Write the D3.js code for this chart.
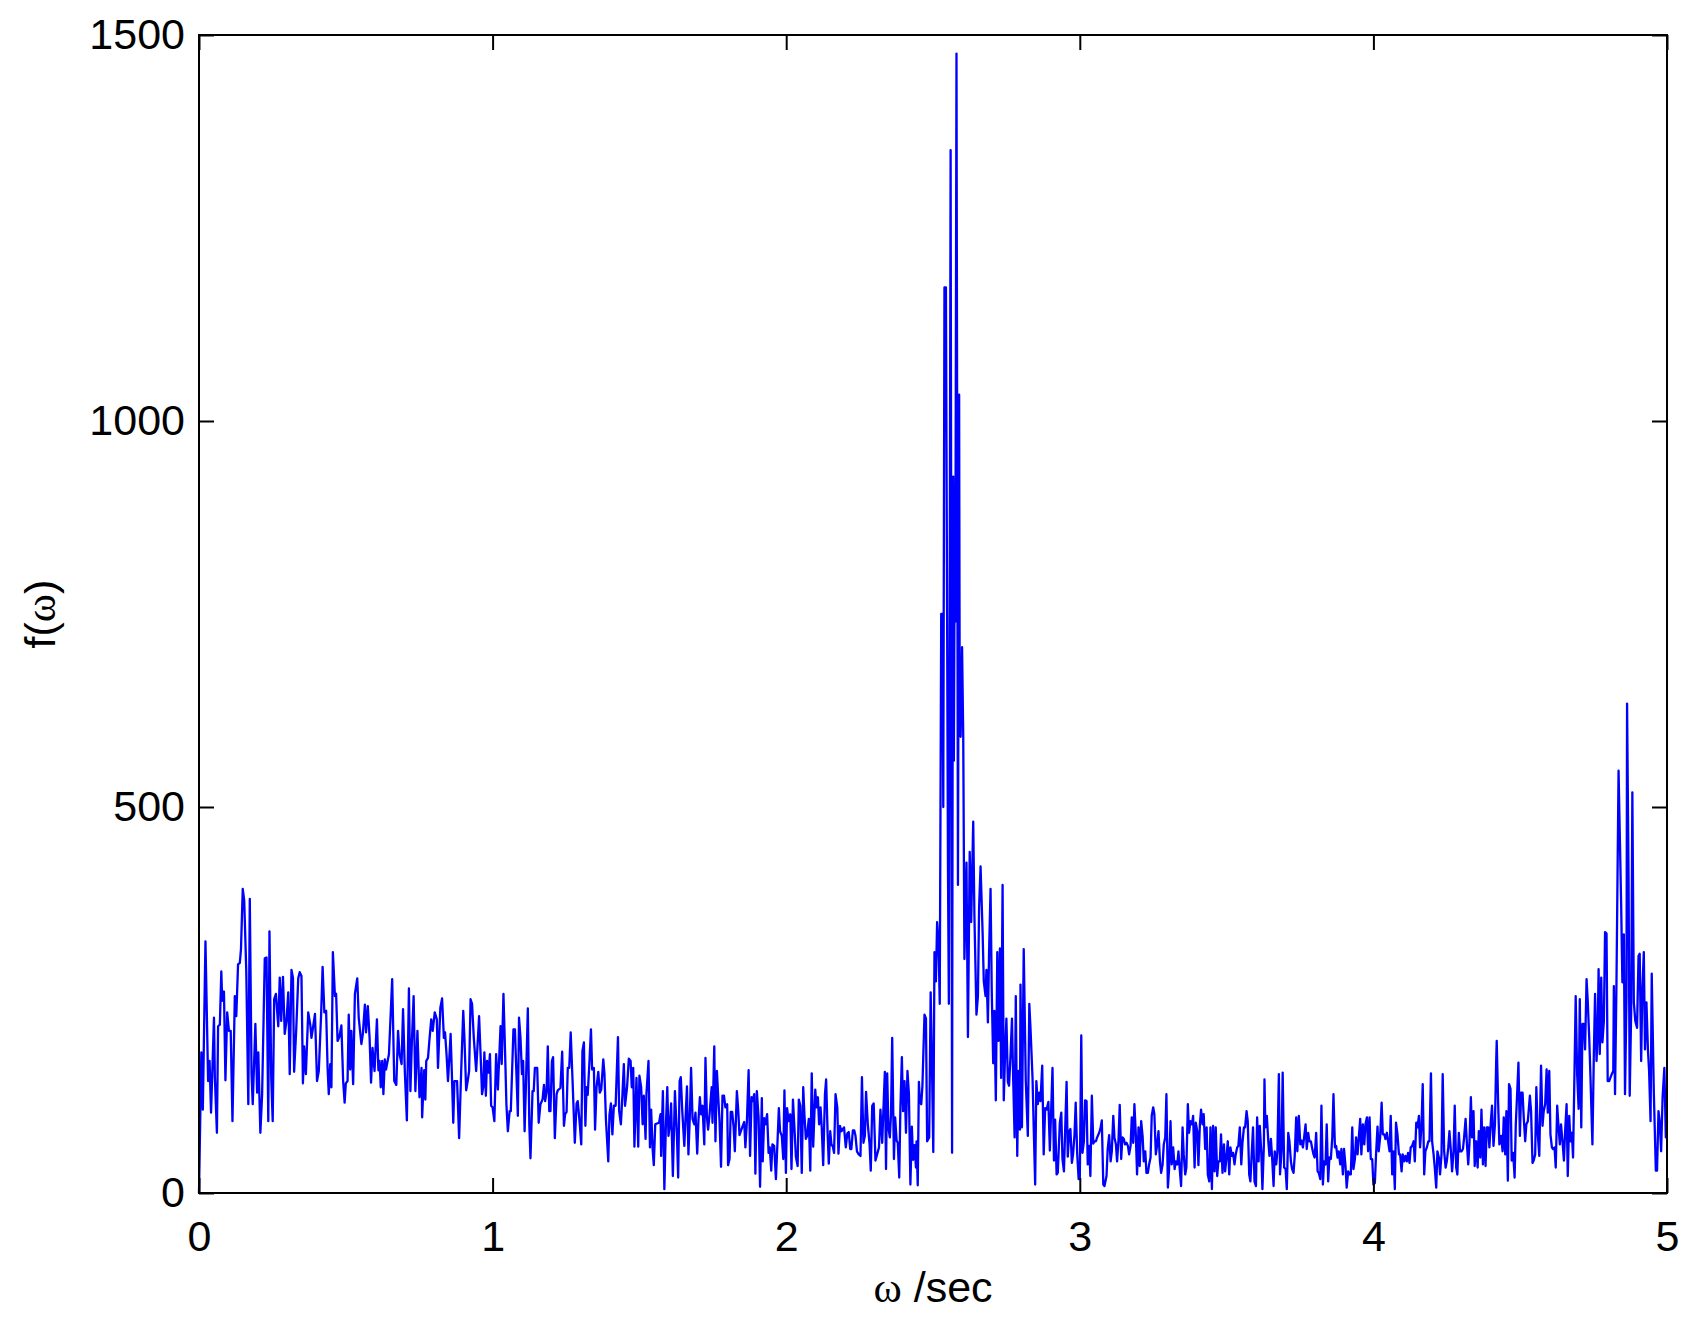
<!DOCTYPE html>
<html>
<head>
<meta charset="utf-8">
<script src="https://cdn.jsdelivr.net/npm/d3@7"></script>
<style>
  html, body { margin: 0; padding: 0; background: #ffffff; }
  svg { display: block; }
</style>
</head>
<body>
<svg id="chart" width="1699" height="1323"></svg>
<script>
// ---------- data ----------
const xTicks = [0, 1, 2, 3, 4, 5];
const yTicks = [0, 500, 1000, 1500];
// titles as [text, isGreekSymbol] parts
const xTitleParts = [["\u03C9", true], [" /sec", false]];
const yTitleParts = [["f(", false], ["\u03C9", true], [")", false]];

// [omega, f(omega)] vertices of the spectrum trace
const spectrumPoints = [
[0,0],[0.008,182],[0.013,108],[0.022,326],[0.031,145],[0.036,171],[0.041,104],[0.051,227],[0.054,150],[0.061,78],
[0.065,216],[0.071,218],[0.076,287],[0.079,249],[0.085,261],[0.090,146],[0.096,234],[0.102,210],[0.108,210],[0.114,93],
[0.122,255],[0.127,229],[0.133,296],[0.139,298],[0.143,316],[0.149,394],[0.154,379],[0.161,288],[0.168,115],[0.173,381],
[0.179,154],[0.183,115],[0.192,219],[0.198,130],[0.202,182],[0.209,78],[0.215,128],[0.224,304],[0.230,305],[0.236,93],
[0.240,339],[0.246,150],[0.251,93],[0.256,251],[0.262,258],[0.270,216],[0.275,279],[0.280,223],[0.286,280],[0.292,206],
[0.298,223],[0.304,260],[0.309,154],[0.315,289],[0.320,279],[0.324,157],[0.331,210],[0.338,278],[0.343,286],[0.349,281],
[0.354,142],[0.358,190],[0.364,154],[0.372,234],[0.379,218],[0.383,201],[0.389,216],[0.395,232],[0.402,145],[0.408,158],
[0.416,232],[0.421,293],[0.427,234],[0.433,236],[0.438,162],[0.442,128],[0.447,167],[0.451,137],[0.456,312],[0.463,255],
[0.467,258],[0.472,197],[0.478,202],[0.485,217],[0.491,145],[0.496,117],[0.500,142],[0.506,145],[0.510,231],[0.515,160],
[0.519,210],[0.525,141],[0.531,258],[0.539,278],[0.544,227],[0.553,193],[0.558,206],[0.565,244],[0.569,208],[0.575,242],
[0.581,201],[0.586,143],[0.591,188],[0.598,158],[0.606,225],[0.611,159],[0.615,171],[0.619,137],[0.624,171],[0.628,128],
[0.633,173],[0.637,160],[0.647,180],[0.658,277],[0.665,145],[0.672,140],[0.678,210],[0.683,180],[0.690,167],[0.695,238],
[0.701,158],[0.708,94],[0.715,265],[0.720,132],[0.725,195],[0.731,255],[0.737,132],[0.744,210],[0.751,124],[0.758,162],
[0.760,98],[0.767,159],[0.771,121],[0.774,171],[0.780,175],[0.785,199],[0.791,225],[0.796,210],[0.803,234],[0.810,225],
[0.814,162],[0.822,240],[0.828,252],[0.834,201],[0.838,208],[0.843,180],[0.848,145],[0.852,171],[0.857,206],[0.861,158],
[0.866,91],[0.870,145],[0.879,145],[0.886,71],[0.893,158],[0.900,236],[0.904,201],[0.910,133],[0.916,147],[0.920,158],
[0.925,251],[0.930,245],[0.936,201],[0.944,158],[0.954,229],[0.959,180],[0.964,128],[0.968,137],[0.972,182],[0.977,126],
[0.981,171],[0.986,156],[0.991,180],[0.995,113],[1.000,111],[1.006,93],[1.012,180],[1.018,134],[1.027,216],[1.031,167],
[1.037,258],[1.043,175],[1.047,115],[1.052,80],[1.058,106],[1.062,106],[1.071,212],[1.076,212],[1.086,100],[1.090,227],
[1.095,201],[1.100,154],[1.104,171],[1.109,80],[1.113,132],[1.120,239],[1.125,89],[1.129,45],[1.136,132],[1.140,132],
[1.144,162],[1.152,162],[1.157,91],[1.163,115],[1.170,121],[1.175,140],[1.179,119],[1.184,132],[1.188,190],[1.193,106],
[1.197,106],[1.202,171],[1.206,176],[1.212,71],[1.218,128],[1.222,133],[1.231,136],[1.237,183],[1.243,87],[1.247,102],
[1.252,105],[1.256,162],[1.261,162],[1.266,208],[1.272,149],[1.280,65],[1.286,116],[1.290,119],[1.297,89],[1.302,63],
[1.306,184],[1.311,195],[1.316,87],[1.320,137],[1.324,127],[1.330,171],[1.335,212],[1.339,160],[1.345,162],[1.349,82],
[1.354,137],[1.360,157],[1.365,130],[1.370,134],[1.377,173],[1.381,154],[1.386,95],[1.394,41],[1.398,101],[1.403,116],
[1.408,76],[1.413,113],[1.419,113],[1.427,202],[1.431,106],[1.437,89],[1.442,126],[1.447,167],[1.451,113],[1.458,137],
[1.464,174],[1.470,171],[1.474,137],[1.479,162],[1.483,60],[1.490,149],[1.496,60],[1.500,152],[1.506,137],[1.511,89],
[1.515,126],[1.521,70],[1.524,128],[1.531,171],[1.536,59],[1.540,108],[1.545,57],[1.549,36],[1.554,89],[1.560,90],
[1.567,91],[1.572,102],[1.574,48],[1.580,132],[1.585,5],[1.590,85],[1.595,137],[1.599,74],[1.604,89],[1.608,116],
[1.614,22],[1.621,132],[1.628,72],[1.632,20],[1.637,145],[1.641,150],[1.646,106],[1.653,61],[1.657,96],[1.662,138],
[1.667,50],[1.672,102],[1.676,162],[1.681,96],[1.687,89],[1.691,104],[1.697,51],[1.701,93],[1.706,124],[1.710,102],
[1.715,113],[1.721,63],[1.725,175],[1.730,98],[1.734,82],[1.739,102],[1.746,137],[1.749,91],[1.755,190],[1.759,67],
[1.764,158],[1.768,128],[1.773,93],[1.778,34],[1.783,126],[1.788,126],[1.793,111],[1.799,115],[1.802,36],[1.807,44],
[1.811,105],[1.816,105],[1.821,85],[1.825,54],[1.832,132],[1.836,111],[1.841,75],[1.850,85],[1.857,92],[1.861,59],
[1.866,92],[1.872,159],[1.877,48],[1.882,124],[1.886,119],[1.891,128],[1.895,25],[1.900,132],[1.906,98],[1.911,8],
[1.917,123],[1.920,41],[1.925,97],[1.929,89],[1.935,102],[1.940,52],[1.944,59],[1.949,29],[1.953,63],[1.959,61],
[1.965,18],[1.970,63],[1.975,110],[1.979,80],[1.985,74],[1.990,44],[1.994,133],[1.999,26],[2.003,110],[2.008,93],
[2.014,102],[2.018,31],[2.023,121],[2.028,85],[2.033,47],[2.039,35],[2.043,121],[2.048,113],[2.053,26],[2.058,137],
[2.062,102],[2.067,70],[2.071,74],[2.077,96],[2.082,29],[2.087,155],[2.092,60],[2.099,134],[2.103,111],[2.108,124],
[2.112,89],[2.117,111],[2.121,85],[2.126,36],[2.132,128],[2.136,147],[2.141,78],[2.145,38],[2.150,80],[2.154,63],
[2.159,60],[2.163,52],[2.168,128],[2.174,111],[2.178,51],[2.183,87],[2.188,80],[2.197,85],[2.203,59],[2.208,77],
[2.213,79],[2.218,57],[2.222,57],[2.227,81],[2.232,81],[2.236,74],[2.241,54],[2.247,50],[2.253,48],[2.258,150],
[2.263,65],[2.268,74],[2.272,131],[2.278,89],[2.284,63],[2.288,29],[2.293,113],[2.298,116],[2.304,42],[2.311,52],
[2.316,59],[2.321,108],[2.327,65],[2.331,107],[2.336,157],[2.340,31],[2.344,155],[2.348,85],[2.353,72],[2.357,102],
[2.361,201],[2.367,44],[2.371,98],[2.376,68],[2.380,65],[2.385,20],[2.389,111],[2.394,176],[2.398,106],[2.403,145],
[2.408,78],[2.413,158],[2.418,128],[2.423,11],[2.428,86],[2.432,43],[2.437,62],[2.442,33],[2.444,67],[2.448,10],
[2.452,144],[2.455,120],[2.460,115],[2.464,139],[2.471,231],[2.476,226],[2.480,67],[2.487,72],[2.492,260],[2.496,178],
[2.501,53],[2.505,312],[2.510,274],[2.514,351],[2.519,322],[2.523,245],[2.528,750],[2.532,750],[2.535,500],[2.539,1173],
[2.544,1173],[2.548,755],[2.551,420],[2.554,245],[2.560,1351],[2.565,52],[2.567,640],[2.569,928],[2.571,560],[2.573,755],
[2.576,740],[2.580,1476],[2.585,399],[2.589,1034],[2.591,620],[2.594,591],[2.599,707],[2.603,591],[2.607,303],[2.614,428],
[2.619,202],[2.625,442],[2.630,351],
[2.637,481],[2.641,360],[2.648,231],[2.653,255],[2.657,370],[2.662,423],[2.669,337],[2.673,274],[2.679,255],[2.682,289],
[2.687,221],[2.691,312],[2.696,394],[2.700,264],[2.705,168],[2.709,236],[2.714,120],[2.719,312],[2.723,197],[2.728,317],
[2.732,149],[2.737,399],[2.741,120],[2.746,187],[2.750,226],[2.755,144],[2.759,139],[2.764,178],[2.769,226],[2.773,149],
[2.778,72],[2.782,255],[2.787,48],[2.791,158],[2.796,82],[2.798,270],[2.803,85],[2.809,316],[2.816,145],[2.823,74],
[2.828,245],[2.832,214],[2.839,149],[2.843,85],[2.848,11],[2.852,145],[2.857,115],[2.862,130],[2.866,119],[2.872,165],
[2.877,50],[2.882,110],[2.887,108],[2.893,118],[2.898,55],[2.902,102],[2.907,162],[2.912,42],[2.916,95],[2.921,24],
[2.925,26],[2.932,91],[2.937,104],[2.941,44],[2.946,28],[2.955,144],[2.959,47],[2.964,80],[2.968,83],[2.973,39],
[2.977,50],[2.982,76],[2.986,117],[2.991,52],[2.996,18],[3.000,18],[3.005,204],[3.009,52],[3.014,67],[3.018,120],
[3.023,119],[3.027,37],[3.032,61],[3.036,22],[3.041,126],[3.046,64],[3.050,67],[3.055,67],[3.059,72],[3.066,78],
[3.070,83],[3.075,94],[3.080,11],[3.084,9],[3.091,22],[3.095,57],[3.100,75],[3.105,41],[3.109,54],[3.114,100],
[3.118,72],[3.123,63],[3.127,41],[3.132,70],[3.136,114],[3.141,44],[3.145,72],[3.150,70],[3.154,63],[3.159,65],
[3.164,61],[3.168,50],[3.173,61],[3.177,98],[3.182,65],[3.186,115],[3.191,74],[3.195,24],[3.200,85],[3.204,35],
[3.209,93],[3.214,73],[3.218,41],[3.223,54],[3.227,26],[3.232,26],[3.236,37],[3.241,46],[3.245,100],[3.250,111],
[3.254,102],[3.259,50],[3.263,61],[3.268,80],[3.273,41],[3.277,26],[3.282,37],[3.286,63],[3.291,72],[3.295,128],
[3.300,7],[3.304,31],[3.309,93],[3.313,37],[3.318,59],[3.323,31],[3.327,41],[3.332,37],[3.336,54],[3.341,28],
[3.345,9],[3.350,85],[3.354,50],[3.359,24],[3.363,33],[3.368,115],[3.372,78],[3.377,93],[3.382,89],[3.386,100],
[3.391,33],[3.395,91],[3.400,80],[3.404,36],[3.409,89],[3.413,108],[3.418,89],[3.422,102],[3.427,57],[3.432,85],
[3.436,24],[3.441,15],[3.445,85],[3.450,5],[3.454,87],[3.459,28],[3.463,85],[3.468,22],[3.472,41],[3.477,41],
[3.481,76],[3.486,26],[3.491,63],[3.495,28],[3.500,48],[3.504,67],[3.509,24],[3.513,59],[3.518,48],[3.522,52],
[3.527,37],[3.531,50],[3.536,59],[3.540,61],[3.545,85],[3.550,37],[3.554,65],[3.559,85],[3.563,85],[3.568,106],
[3.572,93],[3.577,24],[3.581,15],[3.586,54],[3.590,85],[3.595,15],[3.600,9],[3.604,98],[3.609,41],[3.613,87],
[3.618,54],[3.622,5],[3.627,63],[3.629,147],[3.632,85],[3.637,100],[3.642,67],[3.646,48],[3.651,70],[3.655,46],
[3.660,9],[3.664,54],[3.669,37],[3.673,54],[3.678,154],[3.682,24],[3.687,54],[3.691,156],[3.696,33],[3.701,31],
[3.705,5],[3.710,78],[3.714,67],[3.719,41],[3.723,31],[3.728,26],[3.732,48],[3.737,98],[3.741,54],[3.746,100],
[3.751,63],[3.755,68],[3.760,59],[3.764,72],[3.769,89],[3.773,57],[3.778,78],[3.782,67],[3.787,67],[3.791,59],
[3.796,50],[3.800,46],[3.805,78],[3.810,28],[3.814,26],[3.819,18],[3.823,113],[3.828,11],[3.832,41],[3.837,37],
[3.841,89],[3.846,15],[3.850,46],[3.855,44],[3.860,72],[3.864,128],[3.869,59],[3.873,61],[3.878,46],[3.882,54],
[3.887,37],[3.891,57],[3.896,24],[3.900,57],[3.905,35],[3.909,7],[3.914,28],[3.919,24],[3.923,24],[3.928,85],
[3.932,31],[3.937,44],[3.941,72],[3.946,50],[3.950,70],[3.955,96],[3.959,50],[3.964,89],[3.969,63],[3.973,89],
[3.978,98],[3.982,54],[3.987,98],[3.991,44],[3.996,44],[4.000,11],[4.005,13],[4.009,50],[4.014,86],[4.018,54],
[4.023,72],[4.028,117],[4.032,76],[4.037,76],[4.041,70],[4.046,78],[4.050,67],[4.055,54],[4.059,100],[4.064,24],
[4.068,54],[4.073,5],[4.077,91],[4.082,76],[4.087,50],[4.091,50],[4.096,28],[4.100,50],[4.105,41],[4.109,48],
[4.114,41],[4.118,52],[4.123,39],[4.127,59],[4.132,61],[4.137,67],[4.141,41],[4.146,91],[4.150,85],[4.155,100],
[4.159,59],[4.164,89],[4.168,141],[4.173,24],[4.177,54],[4.182,59],[4.187,67],[4.191,67],[4.196,155],[4.200,67],
[4.205,50],[4.209,33],[4.214,7],[4.218,54],[4.223,46],[4.227,24],[4.232,50],[4.236,154],[4.241,54],[4.246,33],
[4.250,41],[4.255,59],[4.259,80],[4.264,54],[4.268,28],[4.273,54],[4.277,113],[4.282,33],[4.286,24],[4.291,78],
[4.295,54],[4.300,54],[4.305,57],[4.309,72],[4.314,96],[4.318,67],[4.323,37],[4.327,63],[4.332,124],[4.336,72],
[4.341,106],[4.345,35],[4.350,67],[4.355,33],[4.359,80],[4.364,46],[4.368,108],[4.373,37],[4.377,85],[4.382,35],
[4.386,85],[4.391,85],[4.395,59],[4.400,93],[4.404,113],[4.409,61],[4.414,89],[4.418,167],[4.420,197],[4.425,115],
[4.429,63],[4.435,74],[4.440,54],[4.444,98],[4.449,50],[4.453,106],[4.458,16],[4.462,141],[4.467,135],[4.471,42],
[4.476,52],[4.481,20],[4.485,89],[4.490,132],[4.494,169],[4.499,74],[4.503,130],[4.508,130],[4.512,98],[4.517,67],
[4.521,89],[4.526,93],[4.533,126],[4.537,106],[4.542,39],[4.546,42],[4.551,50],[4.555,137],[4.560,76],[4.565,48],
[4.571,165],[4.576,87],[4.580,106],[4.585,115],[4.590,160],[4.594,104],[4.599,158],[4.603,76],[4.608,59],[4.612,57],
[4.617,59],[4.621,33],[4.626,113],[4.630,89],[4.635,63],[4.639,89],[4.644,67],[4.649,42],[4.653,80],[4.658,115],
[4.662,22],[4.667,100],[4.671,67],[4.676,78],[4.680,46],[4.685,158],[4.689,255],[4.694,154],[4.699,109],[4.703,251],
[4.708,85],[4.712,219],[4.717,219],[4.721,186],[4.726,277],[4.730,249],[4.735,202],[4.739,154],[4.746,63],[4.751,184],
[4.755,258],[4.760,171],[4.764,208],[4.767,290],[4.771,180],[4.776,279],[4.780,195],[4.785,223],[4.789,338],[4.794,336],
[4.798,145],[4.803,145],[4.808,150],[4.812,154],[4.817,158],[4.819,268],[4.823,128],[4.828,275],[4.835,547],[4.839,469],
[4.844,370],[4.848,273],[4.853,335],[4.857,128],[4.862,253],[4.864,634],[4.869,409],[4.873,126],[4.878,236],[4.882,519],
[4.887,247],[4.892,223],[4.898,214],[4.903,307],[4.907,310],[4.912,171],[4.916,262],[4.921,312],[4.925,186],[4.930,247],
[4.935,186],[4.939,158],[4.944,93],[4.948,284],[4.955,132],[4.962,29],[4.966,29],[4.971,106],[4.975,93],[4.980,54],
[4.985,124],[4.991,162],[4.996,72],[5.000,93]
];

// ---------- layout ----------
const plot = { left: 199, right: 1667, top: 35, bottom: 1193 };
const FONT = "'Liberation Sans', Arial, Helvetica, sans-serif";
const SERIF = "'Liberation Serif', 'Times New Roman', serif";
const FS = 43;
const TICK = 15;

const svg = d3.select("#chart");

const x = d3.scaleLinear().domain([0, 5]).range([plot.left, plot.right]);
const y = d3.scaleLinear().domain([0, 1500]).range([plot.bottom, plot.top]);

// data trace
const line = d3.line().x(d => x(d[0])).y(d => y(d[1]));
svg.append("path")
  .datum(spectrumPoints)
  .attr("fill", "none")
  .attr("stroke", "#0000ff")
  .attr("stroke-width", 2.3)
  .attr("stroke-linejoin", "round")
  .attr("d", line);

// axes (ticks pointing inward, box on)
function styleAxis(g, showText) {
  g.select(".domain").remove();
  g.selectAll(".tick line").attr("stroke", "#000").attr("stroke-width", 2);
  g.selectAll(".tick text")
    .attr("fill", "#000")
    .style("font-family", FONT)
    .style("font-size", FS + "px");
  if (!showText) g.selectAll(".tick text").remove();
}

svg.append("g")
  .attr("transform", `translate(0,${plot.bottom})`)
  .call(d3.axisBottom(x).tickValues(xTicks).tickSizeInner(-TICK).tickSizeOuter(0)
        .tickPadding(27).tickFormat(d3.format("d")))
  .call(g => styleAxis(g, true));

svg.append("g")
  .attr("transform", `translate(0,${plot.top})`)
  .call(d3.axisTop(x).tickValues(xTicks).tickSizeInner(-TICK).tickSizeOuter(0))
  .call(g => styleAxis(g, false));

svg.append("g")
  .attr("transform", `translate(${plot.left},0)`)
  .call(d3.axisLeft(y).tickValues(yTicks).tickSizeInner(-TICK).tickSizeOuter(0)
        .tickPadding(14).tickFormat(d3.format("d")))
  .call(g => styleAxis(g, true));

svg.append("g")
  .attr("transform", `translate(${plot.right},0)`)
  .call(d3.axisRight(y).tickValues(yTicks).tickSizeInner(-TICK).tickSizeOuter(0))
  .call(g => styleAxis(g, false));

// frame
svg.append("rect")
  .attr("x", plot.left).attr("y", plot.top)
  .attr("width", plot.right - plot.left).attr("height", plot.bottom - plot.top)
  .attr("fill", "none").attr("stroke", "#000").attr("stroke-width", 2);

// axis titles
function addTitle(parts, transform) {
  const t = svg.append("text")
    .attr("transform", transform)
    .attr("text-anchor", "middle")
    .style("font-family", FONT).style("font-size", FS + "px")
    .attr("fill", "#000");
  parts.forEach(([s, greek]) => {
    t.append("tspan").style("font-family", greek ? SERIF : FONT).text(s);
  });
}
addTitle(xTitleParts, `translate(${(plot.left + plot.right) / 2},1302)`);
addTitle(yTitleParts, `translate(55,${(plot.top + plot.bottom) / 2}) rotate(-90)`);
</script>
</body>
</html>
